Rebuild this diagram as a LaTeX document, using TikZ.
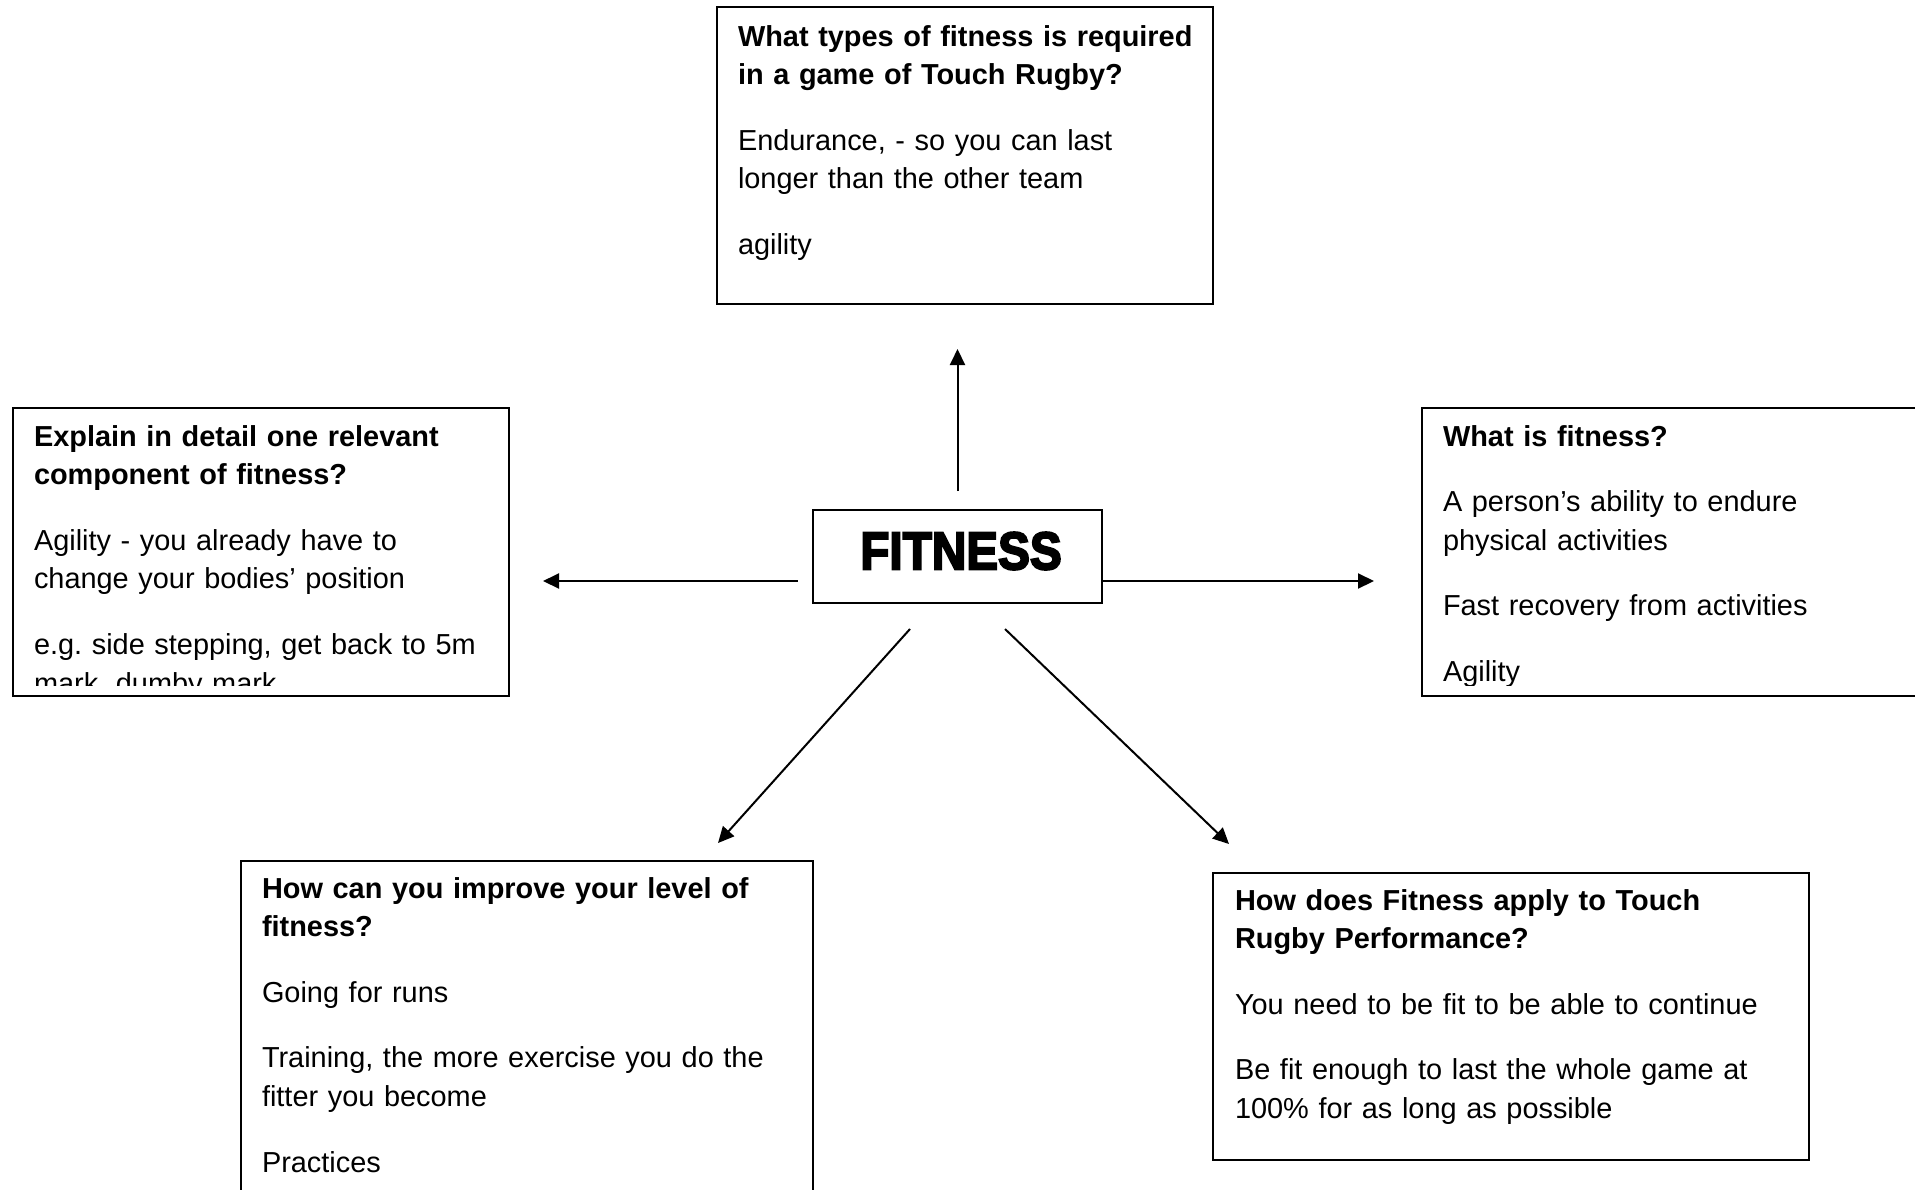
\documentclass[tikz,border=0pt]{standalone}
\usepackage{fontspec}
\usepackage{graphicx}
\setmainfont{Liberation Sans}
\newfontfamily\fitfont{Liberation Sans}[BoldFeatures={FakeBold=4}]
\usetikzlibrary{arrows.meta}
\frenchspacing
\tikzset{
  qbox/.style={draw=black, line width=0.8pt, fill=none, anchor=north west, inner sep=0pt, outer sep=0pt},
  qtext/.style={anchor=base west, inner sep=0pt, outer sep=0pt, text width=300pt, align=left,
                font=\fontsize{14.45pt}{19.3pt}\selectfont\frenchspacing},
  conn/.style={line width=1pt, -{Triangle[length=8pt,width=7.5pt]}},
}
\newcommand{\pgap}{\\[13.5pt]}
\begin{document}
\begin{tikzpicture}[x=0.5pt,y=-0.5pt]
\useasboundingbox (0,0) rectangle (1915,1189);
% boxes
\node[qbox, minimum width=248pt, minimum height=148.5pt] (topbox) at (717,7) {};
\node[qbox, minimum width=248pt, minimum height=144pt] (leftbox) at (13,408) {};
\node[qbox, minimum width=254pt, minimum height=144pt] (rightbox) at (1422,408) {};
\node[qbox, minimum width=286pt, minimum height=170pt] (blbox) at (241,861) {};
\node[qbox, minimum width=298pt, minimum height=143.5pt] (brbox) at (1213,873) {};
\node[qbox, minimum width=144.5pt, minimum height=46.5pt] (fitbox) at (813,510) {};
\node[inner sep=0pt] (fitlabel) at (961,551) {\scalebox{0.9}[1]{\fontsize{26.5pt}{28pt}\fitfont\bfseries FITNESS}};
% texts
\node[qtext] (toptext) at (738,46) {{\bfseries What types of fitness is required\\in a game of Touch Rugby?}\pgap
Endurance, - so you can last\\longer than the other team\pgap agility};
\begin{scope}
\clip (0,408) rectangle (1915,685);
\node[qtext] (lefttext) at (34,446) {{\bfseries Explain in detail one relevant\\component of fitness?}\pgap
Agility - you already have to\\change your bodies’ position\pgap
e.g. side stepping, get back to 5m\\mark, dumby mark};
\node[qtext] (righttext) at (1443,446) {{\bfseries What is fitness?}\pgap
A person’s ability to endure\\physical activities\pgap
Fast recovery from activities\pgap Agility};
\end{scope}
\node[qtext] (bltext) at (262,898) {{\bfseries How can you improve your level of\\fitness?}\pgap
Going for runs\pgap
Training, the more exercise you do the\\fitter you become\pgap Practices};
\node[qtext] (brtext) at (1235,910) {{\bfseries How does Fitness apply to Touch\\Rugby Performance?}\pgap
You need to be fit to be able to continue\pgap
Be fit enough to last the whole game at\\100\% for as long as possible};
% connector ends
\coordinate (upS) at (957.5,491);
\coordinate (upE) at (957.5,349);
\coordinate (lS) at (797.5,581);
\coordinate (lE) at (543,581);
\coordinate (rS) at (1102,581);
\coordinate (rE) at (1374,581);
\coordinate (dlS) at (910,629);
\coordinate (dlE) at (718,843);
\coordinate (drS) at (1005,629);
\coordinate (drE) at (1229,844);
\draw[conn] (upS) -- (upE);
\draw[conn] (lS) -- (lE);
\draw[conn] (rS) -- (rE);
\draw[conn] (dlS) -- (dlE);
\draw[conn] (drS) -- (drE);
\end{tikzpicture}
\end{document}
